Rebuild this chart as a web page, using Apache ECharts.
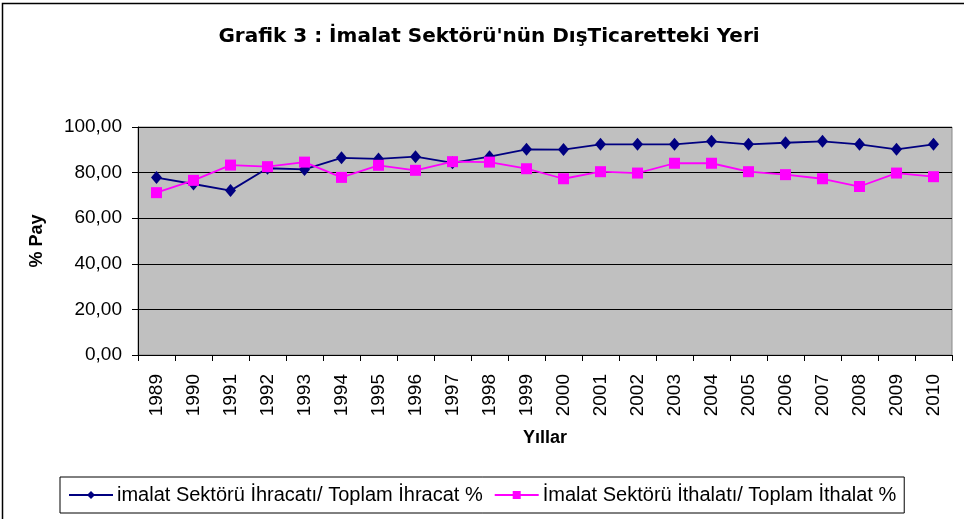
<!DOCTYPE html>
<html><head><meta charset="utf-8">
<script src="https://cdn.jsdelivr.net/npm/echarts@6/dist/echarts.min.js"></script>
<style>html,body{margin:0;padding:0;background:#fff}#c{width:964px;height:519px}</style>
</head><body><div id="c"></div>
<script>
const years = ['1989','1990','1991','1992','1993','1994','1995','1996','1997','1998','1999','2000','2001','2002','2003','2004','2005','2006','2007','2008','2009','2010'];
const ihracat = [77.8,75.0,72.1,81.9,81.4,86.5,86.0,87.0,84.3,87.0,90.2,90.1,92.4,92.4,92.4,93.7,92.4,93.1,93.7,92.4,90.2,92.4];
const ithalat = [71.2,76.6,83.3,82.6,84.6,77.9,83.2,81.0,84.8,84.6,81.7,77.3,80.4,79.8,84.1,84.1,80.4,79.1,77.3,73.9,79.8,78.2];
const yTicks = [0,20,40,60,80,100];
const name1 = 'imalat Sektörü İhracatı/ Toplam İhracat %';
const name2 = 'İmalat Sektörü İthalatı/ Toplam İthalat %';
const F = 'Liberation Sans, Arial, sans-serif';
const chart = echarts.init(document.getElementById('c'), null, {renderer:'canvas'});
chart.setOption({
  animation:false,
  backgroundColor:'#fff',
  graphic:[{type:'rect',shape:{x:2.5,y:3.5,width:1000,height:600},style:{fill:'none',stroke:'#000',lineWidth:1.5},z:-10}],
  title:{text:'Grafik 3 : İmalat Sektörü\'nün DışTicaretteki Yeri',left:484,textAlign:'center',top:22,
    textStyle:{fontFamily:'DejaVu Sans, sans-serif',fontWeight:'bold',fontSize:20,color:'#000'}},
  legend:{left:60,top:477,width:846,height:36,borderColor:'#000',borderWidth:1,padding:[8,8,8,8],itemGap:11,itemWidth:44,itemHeight:10,
    textStyle:{fontFamily:F,fontSize:20,color:'#000',padding:[0,0,0,-1]},
    data:[name1,name2]},
  grid:{left:138,top:127,right:12,bottom:164,show:true,backgroundColor:'#C0C0C0',borderColor:'#888',borderWidth:1},
  xAxis:{type:'category',data:years,boundaryGap:true,
    name:'Yıllar',nameLocation:'middle',nameGap:74,
    nameTextStyle:{fontFamily:F,fontWeight:'bold',fontSize:18,color:'#000'},
    axisLine:{lineStyle:{color:'#000',width:1}},
    axisTick:{show:true,length:6,lineStyle:{color:'#000'},alignWithLabel:false},
    axisLabel:{rotate:90,fontFamily:F,fontSize:19,color:'#000',margin:19}},
  yAxis:{type:'value',min:0,max:100,interval:20,
    name:'% Pay',nameLocation:'middle',nameGap:92,nameRotate:90,
    nameTextStyle:{fontFamily:F,fontWeight:'bold',fontSize:18,color:'#000'},
    axisLine:{show:true,lineStyle:{color:'#000'}},
    axisTick:{show:true,length:6,lineStyle:{color:'#000'}},
    splitLine:{show:true,lineStyle:{color:'#000',width:1}},
    axisLabel:{fontFamily:F,fontSize:19,color:'#000',margin:16,
      formatter:v=>yTicks.includes(v)?v.toFixed(2).replace('.',','):''}},
  series:[
    {name:name1,type:'line',data:ihracat,symbol:'diamond',symbolSize:[11,13],color:'#000080',
      lineStyle:{color:'#000080',width:1.8},itemStyle:{color:'#000080'}},
    {name:name2,type:'line',data:ithalat,symbol:'rect',symbolSize:11,color:'#FF00FF',
      lineStyle:{color:'#FF00FF',width:1.8},itemStyle:{color:'#FF00FF'}}
  ]
});
</script></body></html>
